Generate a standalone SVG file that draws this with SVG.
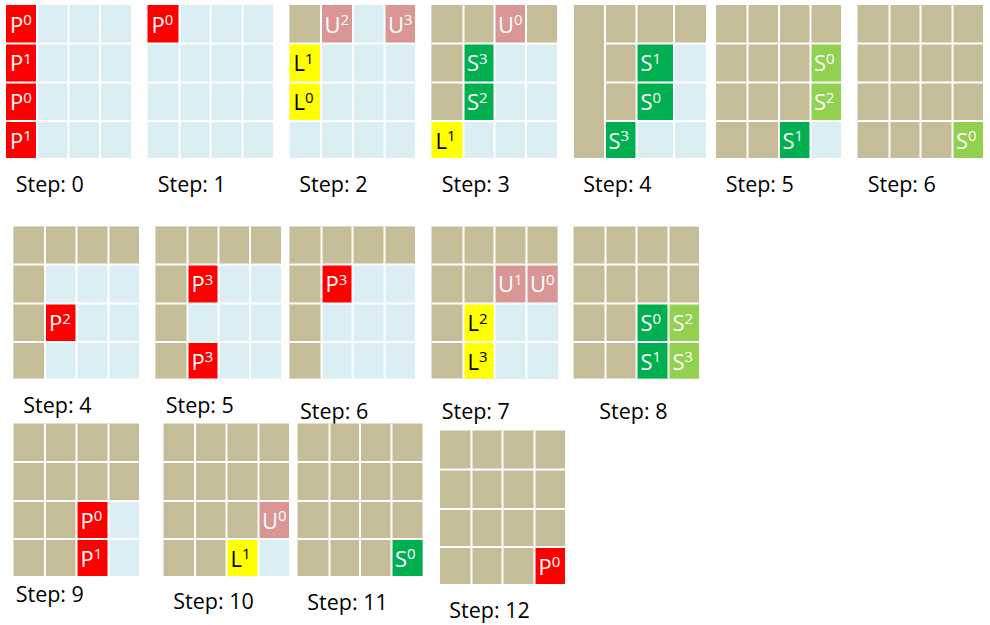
<svg xmlns="http://www.w3.org/2000/svg" width="990" height="625" viewBox="0 0 990 625">
<style>
.b{fill:#DBEEF4}.T{fill:#C4BD97}.r{fill:#FF0000}.k{fill:#D99694}.y{fill:#FFFF00}.g{fill:#00B050}.lg{fill:#92D050}
.ln{stroke:#FFFFFF;stroke-width:2;fill:none}
.c{font-family:"Open Sans","Liberation Sans",sans-serif;font-size:22px;fill:#FFFFFF}
.d{fill:#000000}
.s{font-size:15px}
.lbl{font-family:"Open Sans","Liberation Sans",sans-serif;font-size:21.5px;fill:#000000}
</style>
<rect width="990" height="625" fill="#FFFFFF"/>

<g id="step0-row1">
<rect class="b" x="6" y="5" width="125" height="153"/>
<rect class="r" x="6" y="5" width="31" height="153"/>
<path class="ln" d="M37 5V158M68.5 5V158M100 5V158M6 43.5H131M6 82.5H131M6 121H131"/>
<text class="c" x="10" y="32.5">P<tspan class="s" dy="-7.5">0</tspan></text>
<text class="c" x="10" y="71">P<tspan class="s" dy="-7.5">1</tspan></text>
<text class="c" x="10" y="110">P<tspan class="s" dy="-7.5">0</tspan></text>
<text class="c" x="10" y="148.5">P<tspan class="s" dy="-7.5">1</tspan></text>
<text class="lbl" x="15.7" y="192">Step: 0</text>
</g>

<g id="step1-row1">
<rect class="b" x="147.5" y="5" width="125.5" height="153"/>
<rect class="r" x="147.5" y="5" width="32" height="38.5"/>
<path class="ln" d="M179.5 5V158M210.5 5V158M242.5 5V158M147.5 43.5H273M147.5 82.5H273M147.5 121H273"/>
<text class="c" x="151.5" y="32.5">P<tspan class="s" dy="-7.5">0</tspan></text>
<text class="lbl" x="157.7" y="192">Step: 1</text>
</g>

<g id="step2-row1">
<rect class="b" x="289.5" y="5" width="125.5" height="153"/>
<rect class="T" x="289.5" y="5" width="31.5" height="38.5"/>
<rect class="k" x="321" y="5" width="32" height="38.5"/>
<rect class="k" x="384.5" y="5" width="30.5" height="38.5"/>
<rect class="y" x="289.5" y="43.5" width="31.5" height="77.5"/>
<path class="ln" d="M321 5V158M353 5V158M384.5 5V158M289.5 43.5H415M289.5 82.5H415M289.5 121H415"/>
<text class="c" x="324.5" y="32.5">U<tspan class="s" dy="-7.5">2</tspan></text>
<text class="c" x="388" y="32.5">U<tspan class="s" dy="-7.5">3</tspan></text>
<text class="c d" x="293.5" y="71">L<tspan class="s" dy="-7.5">1</tspan></text>
<text class="c d" x="293.5" y="110">L<tspan class="s" dy="-7.5">0</tspan></text>
<text class="lbl" x="299.3" y="192">Step: 2</text>
</g>

<g id="step3-row1">
<rect class="b" x="431.5" y="5" width="125.5" height="153"/>
<rect class="T" x="431.5" y="5" width="125.5" height="38.5"/>
<rect class="k" x="494.5" y="5" width="31.5" height="38.5"/>
<rect class="T" x="431.5" y="43.5" width="32" height="77.5"/>
<rect class="g" x="463.5" y="43.5" width="31" height="77.5"/>
<rect class="y" x="431.5" y="121" width="32" height="37"/>
<path class="ln" d="M463.5 5V158M494.5 5V158M526 5V158M431.5 43.5H557M431.5 82.5H557M431.5 121H557"/>
<text class="c" x="498" y="32.5">U<tspan class="s" dy="-7.5">0</tspan></text>
<text class="c" x="467" y="71">S<tspan class="s" dy="-7.5">3</tspan></text>
<text class="c" x="467" y="110">S<tspan class="s" dy="-7.5">2</tspan></text>
<text class="c d" x="435.5" y="148.5">L<tspan class="s" dy="-7.5">1</tspan></text>
<text class="lbl" x="441.7" y="192">Step: 3</text>
</g>

<g id="step4-row1">
<rect class="T" x="574" y="5" width="132" height="153"/>
<rect class="b" x="674" y="43.5" width="32" height="77.5"/>
<rect class="b" x="636.5" y="121" width="69.5" height="37"/>
<rect class="g" x="636.5" y="43.5" width="37.5" height="77.5"/>
<rect class="g" x="605" y="121" width="31.5" height="37"/>
<path class="ln" d="M605 5V158M636.5 5V158M674 5V158M605 43.5H706M605 82.5H706M605 121H706"/>
<text class="c" x="640.5" y="71">S<tspan class="s" dy="-7.5">1</tspan></text>
<text class="c" x="640.5" y="110">S<tspan class="s" dy="-7.5">0</tspan></text>
<text class="c" x="608.5" y="148.5">S<tspan class="s" dy="-7.5">3</tspan></text>
<text class="lbl" x="583.3" y="192">Step: 4</text>
</g>

<g id="step5-row1">
<rect class="T" x="716" y="5" width="125" height="153"/>
<rect class="lg" x="810.5" y="43.5" width="30.5" height="77.5"/>
<rect class="g" x="779" y="121" width="31.5" height="37"/>
<rect class="b" x="810.5" y="121" width="30.5" height="37"/>
<path class="ln" d="M747.5 5V158M779 5V158M810.5 5V158M716 43.5H841M716 82.5H841M716 121H841"/>
<text class="c" x="814" y="71">S<tspan class="s" dy="-7.5">0</tspan></text>
<text class="c" x="814" y="110">S<tspan class="s" dy="-7.5">2</tspan></text>
<text class="c" x="782.5" y="148.5">S<tspan class="s" dy="-7.5">1</tspan></text>
<text class="lbl" x="725.7" y="192">Step: 5</text>
</g>

<g id="step6-row1">
<rect class="T" x="857.5" y="5" width="125.5" height="153"/>
<rect class="lg" x="952.5" y="121" width="30.5" height="37"/>
<path class="ln" d="M889.5 5V158M920.5 5V158M952.5 5V158M857.5 43.5H983M857.5 82.5H983M857.5 121H983"/>
<text class="c" x="956" y="148.5">S<tspan class="s" dy="-7.5">0</tspan></text>
<text class="lbl" x="867.7" y="192">Step: 6</text>
</g>

<g id="step4-row2">
<rect class="b" x="13.5" y="226.5" width="125.5" height="152"/>
<rect class="T" x="13.5" y="226.5" width="125.5" height="38"/>
<rect class="T" x="13.5" y="264.5" width="31.5" height="114"/>
<rect class="r" x="45" y="303.5" width="31.5" height="38.5"/>
<path class="ln" d="M45 226.5V378.5M76.5 226.5V378.5M108.5 226.5V378.5M13.5 264.5H139M13.5 303.5H139M13.5 342H139"/>
<text class="c" x="49" y="331">P<tspan class="s" dy="-7.5">2</tspan></text>
<text class="lbl" x="23.3" y="413">Step: 4</text>
</g>

<g id="step5-row2">
<rect class="b" x="155.5" y="226.5" width="125.5" height="152"/>
<rect class="T" x="155.5" y="226.5" width="125.5" height="38"/>
<rect class="T" x="155.5" y="264.5" width="32" height="114"/>
<rect class="r" x="187.5" y="264.5" width="31" height="39"/>
<rect class="r" x="187.5" y="342" width="31" height="36.5"/>
<path class="ln" d="M187.5 226.5V378.5M218.5 226.5V378.5M250 226.5V378.5M155.5 264.5H281M155.5 303.5H281M155.5 342H281"/>
<text class="c" x="191.5" y="292">P<tspan class="s" dy="-7.5">3</tspan></text>
<text class="c" x="191.5" y="369.5">P<tspan class="s" dy="-7.5">3</tspan></text>
<text class="lbl" x="165.7" y="413">Step: 5</text>
</g>

<g id="step6-row2">
<rect class="b" x="289.5" y="226.5" width="125.5" height="152"/>
<rect class="T" x="289.5" y="226.5" width="125.5" height="38"/>
<rect class="T" x="289.5" y="264.5" width="32" height="114"/>
<rect class="r" x="321.5" y="264.5" width="31" height="39"/>
<path class="ln" d="M321.5 226.5V378.5M352.5 226.5V378.5M384.5 226.5V378.5M289.5 264.5H415M289.5 303.5H415M289.5 342H415"/>
<text class="c" x="325.5" y="292">P<tspan class="s" dy="-7.5">3</tspan></text>
<text class="lbl" x="300" y="419">Step: 6</text>
</g>

<g id="step7-row2">
<rect class="T" x="431.5" y="226.5" width="126" height="152"/>
<rect class="k" x="494.5" y="264.5" width="63" height="39"/>
<rect class="y" x="463.5" y="303.5" width="31" height="75"/>
<rect class="b" x="494.5" y="303.5" width="63" height="75"/>
<path class="ln" d="M463.5 226.5V378.5M494.5 226.5V378.5M526.5 226.5V378.5M431.5 264.5H557.5M431.5 303.5H557.5M431.5 342H557.5"/>
<text class="c" x="498" y="292">U<tspan class="s" dy="-7.5">1</tspan></text>
<text class="c" x="530" y="292">U<tspan class="s" dy="-7.5">0</tspan></text>
<text class="c d" x="467.5" y="331">L<tspan class="s" dy="-7.5">2</tspan></text>
<text class="c d" x="467.5" y="369.5">L<tspan class="s" dy="-7.5">3</tspan></text>
<text class="lbl" x="441.7" y="419">Step: 7</text>
</g>

<g id="step8-row2">
<rect class="T" x="573.5" y="226.5" width="125.5" height="152"/>
<rect class="g" x="636.5" y="303.5" width="32" height="75"/>
<rect class="lg" x="668.5" y="303.5" width="30.5" height="75"/>
<path class="ln" d="M605.5 226.5V378.5M636.5 226.5V378.5M668.5 226.5V378.5M573.5 264.5H699M573.5 303.5H699M573.5 342H699"/>
<text class="c" x="640.5" y="331">S<tspan class="s" dy="-7.5">0</tspan></text>
<text class="c" x="672.5" y="331">S<tspan class="s" dy="-7.5">2</tspan></text>
<text class="c" x="640.5" y="369.5">S<tspan class="s" dy="-7.5">1</tspan></text>
<text class="c" x="672.5" y="369.5">S<tspan class="s" dy="-7.5">3</tspan></text>
<text class="lbl" x="599.3" y="419">Step: 8</text>
</g>

<g id="step9-row3">
<rect class="T" x="13.5" y="423.5" width="125.5" height="152.5"/>
<rect class="r" x="76.5" y="501" width="32" height="75"/>
<rect class="b" x="108.5" y="501" width="30.5" height="75"/>
<path class="ln" d="M45 423.5V576M76.5 423.5V576M108.5 423.5V576M13.5 462H139M13.5 501H139M13.5 539H139"/>
<text class="c" x="80.5" y="528.5">P<tspan class="s" dy="-7.5">0</tspan></text>
<text class="c" x="80.5" y="566.5">P<tspan class="s" dy="-7.5">1</tspan></text>
<text class="lbl" x="15.7" y="601.5">Step: 9</text>
</g>

<g id="step10-row3">
<rect class="T" x="163.5" y="423.5" width="125.5" height="152.5"/>
<rect class="k" x="258.5" y="501" width="30.5" height="38"/>
<rect class="y" x="226.5" y="539" width="32" height="37"/>
<rect class="b" x="258.5" y="539" width="30.5" height="37"/>
<path class="ln" d="M195 423.5V576M226.5 423.5V576M258.5 423.5V576M163.5 462H289M163.5 501H289M163.5 539H289"/>
<text class="c" x="262" y="528.5">U<tspan class="s" dy="-7.5">0</tspan></text>
<text class="c d" x="230.5" y="566.5">L<tspan class="s" dy="-7.5">1</tspan></text>
<text class="lbl" x="173.3" y="609">Step: 10</text>
</g>

<g id="step11-row3">
<rect class="T" x="297.5" y="423.5" width="125" height="152.5"/>
<rect class="g" x="391.5" y="539" width="31" height="37"/>
<path class="ln" d="M329.5 423.5V576M360 423.5V576M391.5 423.5V576M297.5 462H422.5M297.5 501H422.5M297.5 539H422.5"/>
<text class="c" x="395" y="566.5">S<tspan class="s" dy="-7.5">0</tspan></text>
<text class="lbl" x="307.3" y="610">Step: 11</text>
</g>

<g id="step12-row3">
<rect class="T" x="440" y="430.5" width="125" height="153.5"/>
<rect class="r" x="534.5" y="547" width="30.5" height="37"/>
<path class="ln" d="M471.5 430.5V584M502.5 430.5V584M534.5 430.5V584M440 469.5H565M440 509H565M440 547H565"/>
<text class="c" x="538.5" y="574.5">P<tspan class="s" dy="-7.5">0</tspan></text>
<text class="lbl" x="449.3" y="617.5">Step: 12</text>
</g>

<g id="connectors"></g>
</svg>
